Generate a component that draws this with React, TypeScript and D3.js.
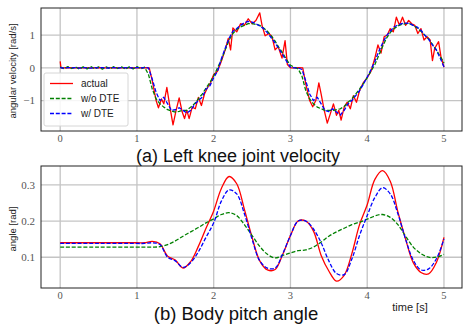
import * as d3 from "d3";

// time base for the velocity model curves (sampled every 0.05 s)
const VEL_STEP = 0.05;

// (a) Left knee joint velocity [rad/s]
const velWithDTE = [
  0.01, -0.01, 0.01, 0, 0.01, -0.01, 0.01, 0, -0.01, 0.01,
  0, 0.01, -0.01, 0, 0.01, -0.01, 0.01, 0, 0.01, -0.01,
  0.01, 0, 0.01, 0, -0.35, -0.75, -1.0, -0.9, -1.1, -1.3,
  -1.28, -1.22, -1.3, -1.38, -1.3, -1.12, -1.0, -0.9, -0.65, -0.55,
  -0.3, -0.1, 0.28, 0.6, 0.9, 1.12, 1.2, 1.3, 1.38, 1.42,
  1.4, 1.35, 1.28, 1.2, 1.07, 0.92, 0.76, 0.58, 0.4, 0.2,
  0.02, 0, 0, -0.05, -0.4, -0.8, -1.0, -0.9, -1.1, -1.3,
  -1.34, -1.25, -1.35, -1.44, -1.3, -1.1, -1.0, -0.85, -0.7, -0.5,
  -0.28, -0.05, 0.2, 0.5, 0.75, 0.98, 1.12, 1.25, 1.31, 1.35,
  1.37, 1.36, 1.3, 1.25, 1.15, 1.0, 0.88, 0.7, 0.55, 0.3,
  0.03,
];

const velWithoutDTE = [
  0.03, -0.03, 0.04, -0.02, 0.03, -0.04, 0.03, -0.03, 0.04, -0.03,
  0.03, -0.04, 0.03, -0.03, 0.04, -0.02, 0.03, -0.04, 0.03, -0.03,
  0.04, -0.03, 0.02, -0.2, -0.65, -0.95, -1.1, -1.2, -1.28, -1.32,
  -1.35, -1.33, -1.3, -1.3, -1.2, -1.1, -0.95, -0.8, -0.62, -0.45,
  -0.25, 0.0, 0.25, 0.55, 0.85, 1.05, 1.18, 1.25, 1.3, 1.35,
  1.35, 1.33, 1.3, 1.22, 1.12, 0.98, 0.82, 0.62, 0.45, 0.25,
  0.08, 0.02, -0.03, -0.25, -0.7, -0.95, -1.1, -1.2, -1.25, -1.3,
  -1.3, -1.3, -1.28, -1.25, -1.18, -1.05, -0.95, -0.8, -0.65, -0.48,
  -0.3, -0.1, 0.1, 0.38, 0.65, 0.9, 1.08, 1.2, 1.28, 1.33,
  1.35, 1.35, 1.3, 1.22, 1.12, 1.0, 0.88, 0.72, 0.55, 0.35,
  0.15,
];

const actualVelTime = [
  0, 0.01, 0.1, 0.2, 0.3, 0.4, 0.5, 0.6, 0.7, 0.8, 0.9, 1.0, 1.1, 1.16,
  1.2, 1.25, 1.28, 1.32, 1.35, 1.39, 1.43, 1.47, 1.51, 1.55, 1.59, 1.62,
  1.65, 1.68, 1.72, 1.76, 1.8, 1.84, 1.88, 1.92, 1.96, 2.0, 2.05, 2.1,
  2.15, 2.19, 2.22, 2.25, 2.3, 2.35, 2.4, 2.45, 2.5, 2.55, 2.6, 2.63,
  2.67, 2.72, 2.76, 2.8, 2.84, 2.89, 2.93, 2.96, 3.0, 3.05, 3.1, 3.16,
  3.2, 3.25, 3.29, 3.33, 3.37, 3.4, 3.44, 3.48, 3.52, 3.56, 3.6, 3.63,
  3.66, 3.7, 3.74, 3.78, 3.82, 3.86, 3.9, 3.95, 4.0, 4.05, 4.1, 4.14,
  4.18, 4.22, 4.26, 4.3, 4.34, 4.38, 4.42, 4.46, 4.5, 4.54, 4.58, 4.62,
  4.66, 4.7, 4.74, 4.78, 4.82, 4.85, 4.88, 4.93, 4.96, 5.0,
];

const actualVel = [
  0.2, 0, 0.01, 0, 0.01, 0, 0.01, 0, 0.01, 0, 0.01, 0, 0.01, 0,
  -0.4, -1.0, -1.22, -0.95, -1.1, -0.6, -1.2, -1.74, -1.3, -0.92, -1.35, -1.55,
  -1.3, -1.55, -1.2, -1.25, -0.9, -1.15, -0.8, -0.6, -0.45, -0.2, -0.1, 0.2,
  0.55, 0.9, 0.55, 1.22, 1.1, 1.35, 1.3, 1.5, 1.35, 1.45, 1.68, 1.3,
  0.98, 1.05, 0.95, 0.55, 0.65, 0.3, 0.83, 0.1, 0.0, 0.0, 0.01, 0.0,
  -0.5, -1.0, -1.19, -1.0, -0.46, -0.8, -1.3, -1.69, -1.4, -1.1, -1.45, -1.3,
  -1.6, -1.2, -1.05, -1.25, -0.85, -1.05, -0.7, -0.45, -0.3, -0.1, 0.3, 0.7,
  0.45, 0.95, 1.0, 1.2, 1.1, 1.55, 1.3, 1.55, 1.3, 1.45, 1.35, 1.3,
  1.05, 1.2, 0.85, 0.95, 0.85, 0.22, 0.6, 0.8, 0.35, 0.02,
];

// (b) Body pitch angle [rad]
const pitchTime = [
  0, 0.5, 1.0,
  1.1, 1.2, 1.3, 1.4, 1.5, 1.6, 1.7, 1.8, 1.9, 2.0,
  2.1, 2.2, 2.3, 2.4, 2.5, 2.6, 2.7, 2.8, 2.9, 3.0,
  3.1, 3.2, 3.3, 3.4, 3.5, 3.6, 3.7, 3.8, 3.9, 4.0,
  4.1, 4.2, 4.3, 4.4, 4.5, 4.6, 4.7, 4.8, 4.9, 5.0,
];

const pitchActual = [
  0.14, 0.14, 0.14,
  0.14, 0.144, 0.137, 0.103, 0.092, 0.07, 0.088, 0.13, 0.18, 0.228,
  0.29, 0.323, 0.303, 0.232, 0.155, 0.09, 0.065, 0.066, 0.108, 0.16,
  0.2, 0.2, 0.172, 0.105, 0.062, 0.034, 0.05, 0.11, 0.19, 0.245,
  0.315, 0.339, 0.31, 0.225, 0.15, 0.085, 0.058, 0.054, 0.085, 0.155,
];

const pitchWithDTE = [
  0.138, 0.138, 0.138,
  0.138, 0.14, 0.135, 0.1, 0.09, 0.072, 0.085, 0.115, 0.155, 0.195,
  0.255, 0.286, 0.275, 0.22, 0.15, 0.09, 0.07, 0.07, 0.11, 0.16,
  0.2, 0.2, 0.178, 0.14, 0.09, 0.055, 0.052, 0.095, 0.16, 0.215,
  0.265, 0.292, 0.275, 0.22, 0.15, 0.092, 0.065, 0.068, 0.095, 0.15,
];

const pitchWithoutDTE = [
  0.128, 0.128, 0.128,
  0.128, 0.128, 0.129, 0.135, 0.145, 0.158, 0.17, 0.182, 0.195, 0.206,
  0.218, 0.223, 0.215, 0.19, 0.16, 0.13, 0.108, 0.098, 0.105, 0.112,
  0.118, 0.12, 0.128, 0.142, 0.158, 0.17, 0.18, 0.19, 0.197, 0.205,
  0.214, 0.218, 0.21, 0.19, 0.158, 0.128, 0.11, 0.1, 0.1, 0.108,
];

const xTicks = [0, 1, 2, 3, 4, 5];
const velTicks = [-1, 0, 1];
const pitchTicks = [0.1, 0.2, 0.3];
const legendLabels = ["actual", "w/o DTE", "w/ DTE"];

const RED = "#ff0000";
const GREEN = "#008000";
const BLUE = "#0000ff";
const DASH = "4,1.8";

const W = 463;
const H = 325;
const left = 41;
const right = 462;

type Pt = [number, number];

function Panel({
  top,
  bottom,
  yDomain,
  yTicks,
  fmt,
  series,
  clipId,
}: {
  top: number;
  bottom: number;
  yDomain: [number, number];
  yTicks: number[];
  fmt: (v: number) => string;
  series: { pts: Pt[]; color: string; dash?: string; curve: d3.CurveFactory }[];
  clipId: string;
}) {
  const x = d3.scaleLinear().domain([-0.25, 5.235]).range([left, right]);
  const y = d3.scaleLinear().domain(yDomain).range([bottom, top]);

  return (
    <g>
      <defs>
        <clipPath id={clipId}>
          <rect x={left} y={top} width={right - left} height={bottom - top} />
        </clipPath>
      </defs>
      {/* grid */}
      {xTicks.map((t) => (
        <line
          key={"gx" + t}
          x1={x(t)}
          x2={x(t)}
          y1={top}
          y2={bottom}
          stroke="#c4c4c4"
          strokeWidth={1.3}
        />
      ))}
      {yTicks.map((t) => (
        <line
          key={"gy" + t}
          x1={left}
          x2={right}
          y1={y(t)}
          y2={y(t)}
          stroke="#c4c4c4"
          strokeWidth={1.3}
        />
      ))}
      {/* lines */}
      <g clipPath={`url(#${clipId})`}>
        {series.map((s, i) => {
          const line = d3
            .line<Pt>()
            .x((d) => x(d[0]))
            .y((d) => y(d[1]))
            .curve(s.curve);
          return (
            <path
              key={i}
              d={line(s.pts) || ""}
              fill="none"
              stroke={s.color}
              strokeWidth={1.3}
              strokeDasharray={s.dash}
              strokeLinejoin="round"
            />
          );
        })}
      </g>
      {/* spines */}
      <rect
        x={left}
        y={top}
        width={right - left}
        height={bottom - top}
        fill="none"
        stroke="#222"
        strokeWidth={1}
      />
      {/* tick labels */}
      {xTicks.map((t) => (
        <text
          key={"tx" + t}
          x={x(t)}
          y={bottom + 11}
          textAnchor="middle"
          fontFamily="'Liberation Serif', serif"
          fontSize={10.5}
          fill="#555"
        >
          {t}
        </text>
      ))}
      {yTicks.map((t) => (
        <text
          key={"ty" + t}
          x={35}
          y={y(t) + 3.8}
          textAnchor="end"
          fontFamily="'Liberation Serif', serif"
          fontSize={11}
          fill="#555"
        >
          {fmt(t)}
        </text>
      ))}
    </g>
  );
}

export default function App() {
  const velBlue: Pt[] = velWithDTE.map((v, i) => [i * VEL_STEP, v]);
  const velGreen: Pt[] = velWithoutDTE.map((v, i) => [i * VEL_STEP, v]);
  const velRed: Pt[] = actualVel.map((v, i) => [actualVelTime[i], v]);

  const pRed: Pt[] = pitchActual.map((v, i) => [pitchTime[i], v]);
  const pBlue: Pt[] = pitchWithDTE.map((v, i) => [pitchTime[i], v]);
  const pGreen: Pt[] = pitchWithoutDTE.map((v, i) => [pitchTime[i], v]);

  const velFmt = (v: number) => (v < 0 ? "\u2212" + Math.abs(v) : String(v));
  const pitchFmt = (v: number) => v.toFixed(1);

  const legendColors = [RED, GREEN, BLUE];

  return (
    <svg
      width={W}
      height={H}
      style={{ position: "absolute", left: 0, top: 0, background: "#fff" }}
      fontFamily="'Liberation Sans', Arial, sans-serif"
    >
      <rect width={W} height={H} fill="#fff" />

      <Panel
        top={8}
        bottom={131}
        yDomain={[-1.93, 1.83]}
        yTicks={velTicks}
        fmt={velFmt}
        clipId="clipA"
        series={[
          { pts: velRed, color: RED, curve: d3.curveLinear },
          { pts: velGreen, color: GREEN, dash: DASH, curve: d3.curveLinear },
          { pts: velBlue, color: BLUE, dash: DASH, curve: d3.curveLinear },
        ]}
      />

      {/* legend */}
      <g>
        <rect
          x={44}
          y={73}
          width={84}
          height={53}
          rx={2}
          fill="#fff"
          fillOpacity={0.85}
          stroke="#d6d6d6"
          strokeWidth={1}
        />
        {legendLabels.map((lab, i) => (
          <g key={lab}>
            <line
              x1={50}
              x2={73}
              y1={83.5 + i * 15}
              y2={83.5 + i * 15}
              stroke={legendColors[i]}
              strokeWidth={1.3}
              strokeDasharray={i === 0 ? undefined : DASH}
            />
            <text x={81} y={87 + i * 15} fontSize={10} fill="#222">
              {lab}
            </text>
          </g>
        ))}
      </g>

      <text
        transform="translate(16,71) rotate(-90)"
        textAnchor="middle"
        fontSize={9.5}
        fill="#222"
      >
        angular velocity [rad/s]
      </text>

      <text x={238} y={161.5} textAnchor="middle" fontSize={18} fill="#111">
        (a) Left knee joint velocity
      </text>

      <Panel
        top={166}
        bottom={288}
        yDomain={[0.015, 0.352]}
        yTicks={pitchTicks}
        fmt={pitchFmt}
        clipId="clipB"
        series={[
          { pts: pRed, color: RED, curve: d3.curveCatmullRom },
          { pts: pGreen, color: GREEN, dash: DASH, curve: d3.curveCatmullRom },
          { pts: pBlue, color: BLUE, dash: DASH, curve: d3.curveCatmullRom },
        ]}
      />

      <text
        transform="translate(16,229) rotate(-90)"
        textAnchor="middle"
        fontSize={9.5}
        fill="#222"
      >
        angle [rad]
      </text>

      <text x={410} y={311} textAnchor="middle" fontSize={11} fill="#222">
        time [s]
      </text>

      <text x={236} y={319.5} textAnchor="middle" fontSize={18.5} fill="#111">
        (b) Body pitch angle
      </text>
    </svg>
  );
}
